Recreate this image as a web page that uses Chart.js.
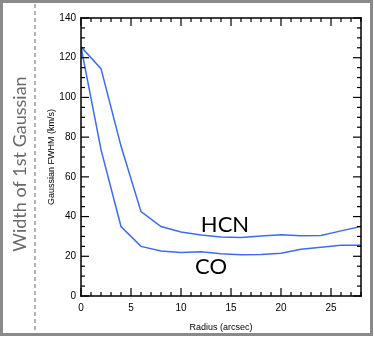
<!DOCTYPE html>
<html lang="en">
<head>
  <meta charset="UTF-8">
  <title>Width of 1st Gaussian</title>
  <script src="https://cdn.jsdelivr.net/npm/chart.js"></script>
  <style>
    body {
      margin: 0;
      background-color: #fff;
    }
    canvas {
      display: block;
    }
  </style>
</head>
<body>

<canvas id="fwhmChart" width="374" height="337"></canvas>

<script>
  // values
  const radius = [0, 2, 4, 6, 8, 10, 12, 14, 16, 18, 20, 22, 24, 26, 28];
  const hcnFwhm = [125.5, 114.5, 75.5, 42.5, 35, 32.2, 30.7, 29.7, 29.5, 30.2, 30.8, 30.3, 30.5, 32.8, 35];
  const coFwhm = [125.5, 73.7, 35, 25, 22.7, 21.9, 22.3, 21.3, 20.8, 20.9, 21.5, 23.5, 24.6, 25.6, 25.5];
  const xTicks = [0, 5, 10, 15, 20, 25];
  const yTicks = [0, 20, 40, 60, 80, 100, 120, 140];

  const lineColor = '#3b6cf5';
  const axisFont = '"Liberation Sans", Arial, sans-serif';

  // box with inward ticks, side caption and curve labels
  const framePlugin = {
    id: 'frame',
    beforeDraw(chart) {
      const ctx = chart.ctx;
      ctx.save();
      ctx.strokeStyle = '#8a8a8a';
      ctx.lineWidth = 3;
      ctx.strokeRect(1.5, 1.5, 370, 333);

      ctx.strokeStyle = '#9a9a9a';
      ctx.lineWidth = 1.5;
      ctx.setLineDash([4, 3]);
      ctx.beginPath();
      ctx.moveTo(35, 4);
      ctx.lineTo(35, 333);
      ctx.stroke();
      ctx.setLineDash([]);

      ctx.translate(20, 164);
      ctx.rotate(-Math.PI / 2);
      ctx.fillStyle = '#6a6a6a';
      ctx.font = '18px Lato, "Open Sans", sans-serif';
      ctx.textAlign = 'center';
      ctx.textBaseline = 'middle';
      ctx.fillText('Width of 1st Gaussian', 0, 0);
      ctx.restore();
    },
    afterDraw(chart) {
      const ctx = chart.ctx;
      const ca = chart.chartArea;
      const xs = chart.scales.x;
      const ys = chart.scales.y;
      const w = ca.right - ca.left;
      const h = ca.bottom - ca.top;
      ctx.save();
      ctx.fillStyle = '#000';
      // frame
      ctx.fillRect(ca.left - 0.75, ca.top - 0.75, w + 1.5, 1.5);
      ctx.fillRect(ca.left - 0.75, ca.bottom - 0.75, w + 1.5, 1.5);
      ctx.fillRect(ca.left - 0.75, ca.top - 0.75, 1.5, h + 1.5);
      ctx.fillRect(ca.right - 0.75, ca.top - 0.75, 1.5, h + 1.5);

      // inward ticks
      for (let v = 0; v <= 28; v += 1) {
        const px = xs.getPixelForValue(v);
        const len = v % 5 === 0 ? 8 : 4;
        ctx.fillRect(px - 0.6, ca.bottom - len, 1.2, len);
        ctx.fillRect(px - 0.6, ca.top, 1.2, len);
      }
      for (let v = 0; v <= 140; v += 5) {
        const py = ys.getPixelForValue(v);
        const len = v % 20 === 0 ? 8 : 4;
        ctx.fillRect(ca.left, py - 0.6, len, 1.2);
        ctx.fillRect(ca.right - len, py - 0.6, len, 1.2);
      }

      ctx.font = '22px Lato, "Open Sans", sans-serif';
      ctx.textAlign = 'center';
      ctx.textBaseline = 'middle';
      ctx.fillText('HCN', xs.getPixelForValue(14.4), ys.getPixelForValue(35.9));
      ctx.fillText('CO', xs.getPixelForValue(13), ys.getPixelForValue(14.6));
      ctx.restore();
    }
  };

  new Chart(document.getElementById('fwhmChart'), {
    type: 'line',
    data: {
      datasets: [
        {
          label: 'HCN',
          data: radius.map((r, i) => ({ x: r, y: hcnFwhm[i] })),
          borderColor: lineColor,
          borderWidth: 1.5,
          pointRadius: 0,
          tension: 0
        },
        {
          label: 'CO',
          data: radius.map((r, i) => ({ x: r, y: coFwhm[i] })),
          borderColor: lineColor,
          borderWidth: 1.5,
          pointRadius: 0,
          tension: 0
        }
      ]
    },
    options: {
      responsive: false,
      animation: false,
      layout: {
        padding: { left: 40, top: 18, right: 13, bottom: 0 }
      },
      plugins: {
        legend: { display: false },
        tooltip: { enabled: false }
      },
      scales: {
        x: {
          type: 'linear',
          min: 0,
          max: 28,
          afterBuildTicks: (s) => { s.ticks = xTicks.map(v => ({ value: v })); },
          afterFit: (s) => { s.height = 41; },
          grid: { display: false, drawTicks: false },
          border: { display: false },
          ticks: {
            padding: 6,
            maxRotation: 0,
            color: '#000',
            font: { family: axisFont, size: 10 }
          },
          title: {
            display: true,
            text: 'Radius (arcsec)',
            color: '#000',
            padding: { top: 15 },
            font: { family: axisFont, size: 9 }
          }
        },
        y: {
          min: 0,
          max: 140,
          afterBuildTicks: (s) => { s.ticks = yTicks.map(v => ({ value: v })); },
          afterFit: (s) => { s.width = 41; },
          grid: { display: false, drawTicks: false },
          border: { display: false },
          ticks: {
            padding: 5,
            color: '#000',
            font: { family: axisFont, size: 10 }
          },
          title: {
            display: true,
            text: 'Gaussian FWHM (km/s)',
            color: '#000',
            padding: { top: 6 },
            font: { family: axisFont, size: 9 }
          }
        }
      }
    },
    plugins: [framePlugin]
  });
</script>

</body>
</html>
